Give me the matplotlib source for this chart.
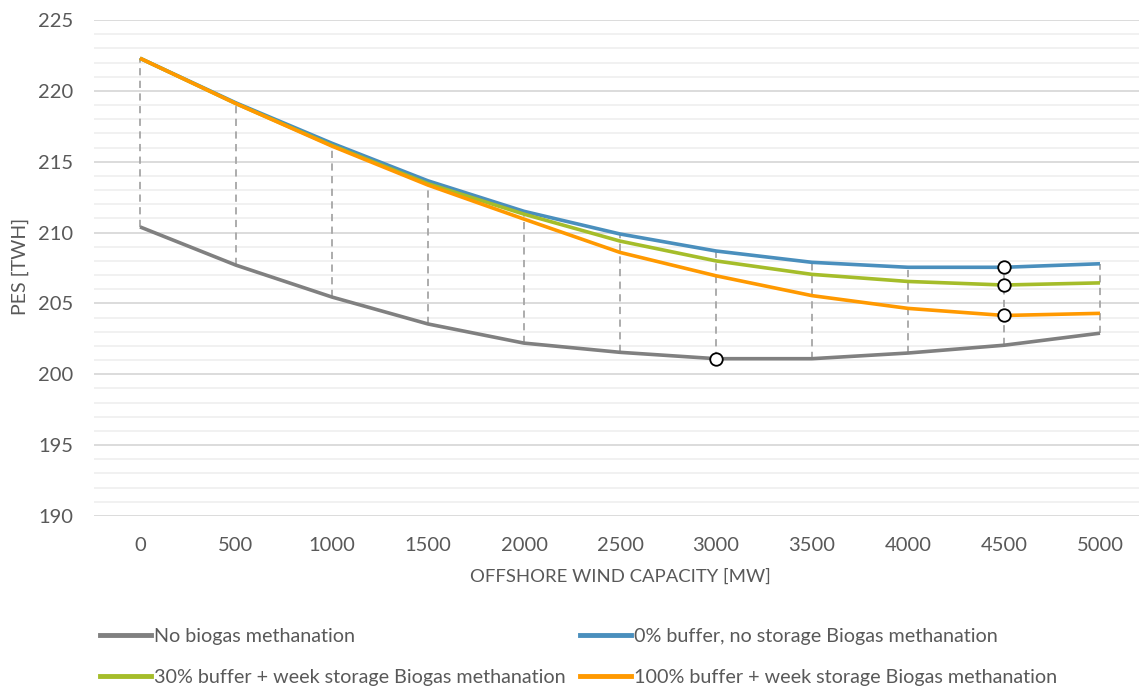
import numpy as np
import matplotlib
matplotlib.use('Agg')
import matplotlib.pyplot as plt
from matplotlib.lines import Line2D

# capacidades offshore (MW) y PES (TWh)
capacity = [0, 500, 1000, 1500, 2000, 2500, 3000, 3500, 4000, 4500, 5000]
no_biogas = [210.4, 207.7, 205.45, 203.55, 202.2, 201.55, 201.1, 201.1, 201.5, 202.05, 202.9]
buffer0 = [222.3, 219.15, 216.3, 213.65, 211.5, 209.9, 208.7, 207.9, 207.55, 207.55, 207.8]
buffer30 = [222.3, 219.1, 216.15, 213.45, 211.3, 209.4, 208.0, 207.05, 206.55, 206.3, 206.45]
buffer100 = [222.3, 219.1, 216.1, 213.35, 210.95, 208.6, 206.95, 205.55, 204.65, 204.15, 204.3]

series = [
    ('No biogas methanation', no_biogas, '#808080'),
    ('0% buffer, no storage Biogas methanation', buffer0, '#4a8fbd'),
    ('30% buffer + week storage Biogas methanation', buffer30, '#a5bd2a'),
    ('100% buffer + week storage Biogas methanation', buffer100, '#ff9900'),
]

# puntos optimos marcados (indice de categoria, serie)
optimum = [(6, no_biogas), (9, buffer0), (9, buffer30), (9, buffer100)]

plt.rcParams['font.family'] = ['Lato', 'DejaVu Sans']

fig = plt.figure(figsize=(11.39, 6.88), dpi=100)
ax = fig.add_axes([94 / 1139, 1 - 516 / 688, 1 - 94 / 1139, (516 - 20) / 688])

x = np.arange(len(capacity))
ax.set_xlim((94 - 140) / 96, (1139 - 140) / 96)
ax.set_ylim(190, 225)

# rejilla
for v in range(190, 226):
    major = v % 5 == 0
    ax.axhline(v, color='#d9d9d9' if major else '#f0f0f0', lw=1.3, zorder=0)

# lineas high-low
tops = np.max([s[1] for s in series], axis=0)
bots = np.min([s[1] for s in series], axis=0)
ax.vlines(x, bots, tops, colors='#a6a6a6', linestyles=(0, (4, 3)), lw=1.3, zorder=1)

for name, vals, col in series:
    ax.plot(x, vals, color=col, lw=2.6, zorder=2, solid_capstyle='butt')

for i, vals in optimum:
    ax.plot(x[i], vals[i], 'o', ms=9, mfc='white', mec='black', mew=1.3, zorder=3)

ax.set_xticks(x)
ax.set_xticklabels([str(c) for c in capacity])
ax.set_yticks(range(190, 226, 5))
ax.tick_params(length=0, labelsize=14.5, labelcolor='#595959')
ax.tick_params(axis='y', pad=15)
ax.tick_params(axis='x', pad=15)
for sp in ax.spines.values():
    sp.set_visible(False)

fig.text(620 / 1139, 1 - 577 / 688, 'OFFSHORE WIND CAPACITY [MW]', ha='center', va='center',
         fontsize=13.3, color='#595959')
fig.text(20 / 1139, 1 - 266 / 688, 'PES [TWH]', ha='center', va='center', rotation=90,
         fontsize=14, color='#595959')

# leyenda: dos columnas, cada una como leyenda propia
for col_idx, x0 in enumerate([100, 580]):
    items = [series[col_idx], series[col_idx + 2]]
    handles = [Line2D([], [], color=c, lw=3.5) for _, _, c in items]
    labels = [n for n, _, _ in items]
    fig.legend(handles, labels, loc='center left',
               bbox_to_anchor=(x0 / 1139, 1 - 657 / 688),
               frameon=False, fontsize=14.2, labelcolor='#595959', handlelength=2.6,
               handletextpad=0.15, labelspacing=1.2, borderpad=0, borderaxespad=0)

fig.savefig('out.png', dpi=100)
